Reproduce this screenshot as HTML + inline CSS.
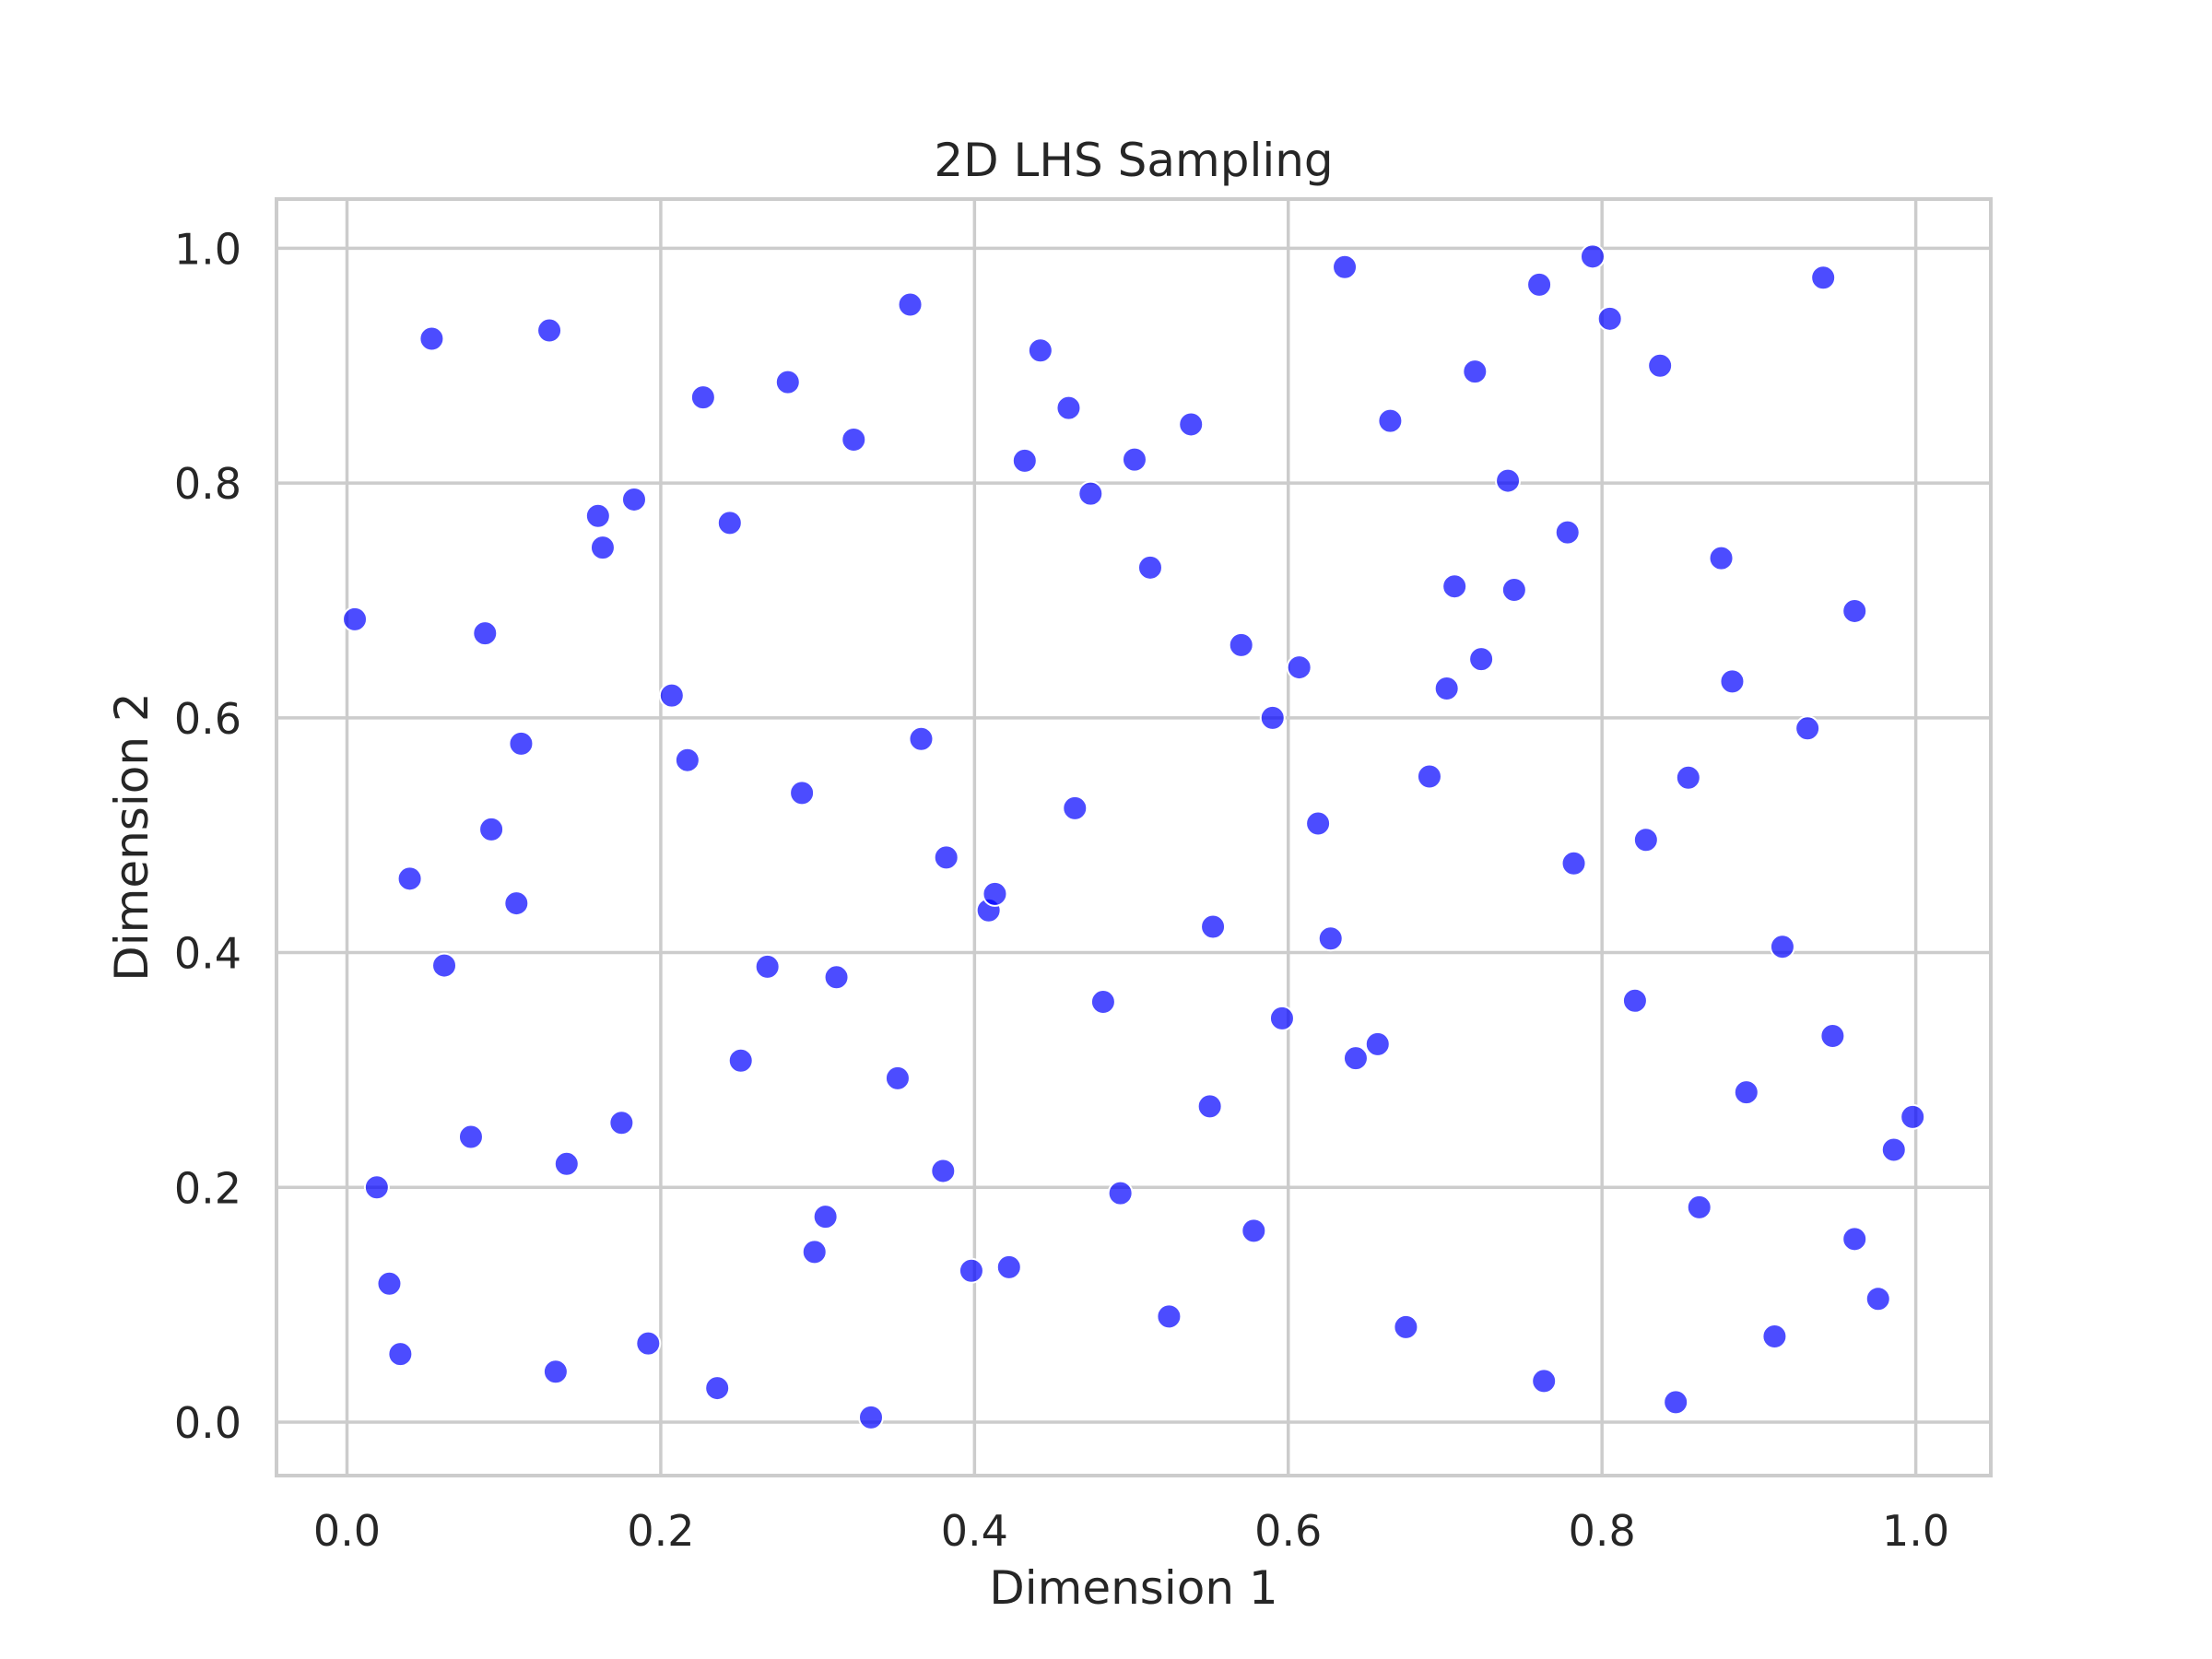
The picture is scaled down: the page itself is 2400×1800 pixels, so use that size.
<!DOCTYPE html>
<html><head><meta charset="utf-8"><style>
html,body{margin:0;padding:0;background:#fff}
svg{display:block}
text{font-family:"DejaVu Sans","Liberation Sans",sans-serif;fill:#262626}
</style></head><body>
<svg id="chart" width="2400" height="1800" viewBox="0 0 2400 1800">
<rect x="0" y="0" width="2400" height="1800" fill="#fff"/>
<g id="grid"></g>
<g id="pts"></g>
<rect x="300" y="216" width="1860" height="1385" fill="none" stroke="#cccccc" stroke-width="4"/>
<g id="ticks"></g>
<text x="1230" y="191" font-size="50" text-anchor="middle">2D LHS Sampling</text>
<text x="1230" y="1740" font-size="50" text-anchor="middle">Dimension 1</text>
<text x="160" y="908" font-size="50" text-anchor="middle" transform="rotate(-90 160 908)">Dimension 2</text>
</svg>
<script>
const xs=[0.005,0.054,0.129,0.019,0.027,0.034,0.040,0.062,0.079,0.088,0.092,0.108,0.111,0.133,0.140,0.160,0.163,0.175,0.183,0.192,0.207,0.217,0.227,0.236,0.244,0.251,0.268,0.281,0.290,0.298,0.305,0.312,0.323,0.334,0.351,0.359,0.366,0.380,0.382,0.398,0.409,0.413,0.422,0.432,0.442,0.460,0.464,0.474,0.482,0.493,0.502,0.512,0.524,0.538,0.550,0.552,0.570,0.578,0.590,0.596,0.607,0.619,0.627,0.636,0.643,0.657,0.665,0.675,0.690,0.701,0.706,0.719,0.723,0.740,0.744,0.760,0.763,0.778,0.782,0.794,0.805,0.821,0.828,0.837,0.847,0.855,0.862,0.876,0.883,0.892,0.910,0.915,0.931,0.941,0.947,0.961,0.961,0.976,0.986,0.998];
const ys=[0.684,0.923,0.930,0.200,0.118,0.058,0.463,0.389,0.243,0.672,0.505,0.442,0.578,0.043,0.220,0.772,0.745,0.255,0.786,0.067,0.619,0.564,0.873,0.029,0.766,0.308,0.388,0.886,0.536,0.145,0.175,0.379,0.837,0.004,0.293,0.952,0.582,0.214,0.481,0.129,0.436,0.450,0.132,0.819,0.913,0.864,0.523,0.791,0.358,0.195,0.820,0.728,0.090,0.850,0.269,0.422,0.662,0.163,0.600,0.344,0.643,0.510,0.412,0.984,0.310,0.322,0.853,0.081,0.550,0.625,0.712,0.895,0.650,0.802,0.709,0.969,0.035,0.758,0.476,0.993,0.940,0.359,0.496,0.900,0.017,0.549,0.183,0.736,0.631,0.281,0.073,0.405,0.591,0.975,0.329,0.691,0.156,0.105,0.232,0.260];
const xTicks=["0.0","0.2","0.4","0.6","0.8","1.0"];
const yTicks=["0.0","0.2","0.4","0.6","0.8","1.0"];
const NS="http://www.w3.org/2000/svg";
function sx(v){return 376.5+v*(2078.6-376.5);}
function sy(v){return 1543-v*(1543-269.4);}
const grid=document.getElementById('grid'),ticks=document.getElementById('ticks'),pts=document.getElementById('pts');
xTicks.forEach(t=>{const v=parseFloat(t);
 const l=document.createElementNS(NS,'line');
 
 
 l.setAttribute('x1',sx(v));l.setAttribute('x2',sx(v));l.setAttribute('y1',216);l.setAttribute('y2',1601);
 l.setAttribute('stroke','#cccccc');l.setAttribute('stroke-width','3.5');grid.appendChild(l);
 const tx=document.createElementNS(NS,'text');
 
 
 tx.setAttribute('x',sx(v));tx.setAttribute('y',1677);tx.setAttribute('font-size','46');tx.setAttribute('text-anchor','middle');
 tx.textContent=t;ticks.appendChild(tx);});
yTicks.forEach(t=>{const v=parseFloat(t);
 const l=document.createElementNS(NS,'line');
 
 
 l.setAttribute('y1',sy(v));l.setAttribute('y2',sy(v));l.setAttribute('x1',300);l.setAttribute('x2',2160);
 l.setAttribute('stroke','#cccccc');l.setAttribute('stroke-width','3.5');grid.appendChild(l);
 const tx=document.createElementNS(NS,'text');
 
 
 tx.setAttribute('x',262);tx.setAttribute('y',sy(v)+17);tx.setAttribute('font-size','46');tx.setAttribute('text-anchor','end');
 tx.textContent=t;ticks.appendChild(tx);});
xs.forEach((x,i)=>{
 const c=document.createElementNS(NS,'circle');
 
 
 c.setAttribute('cx',sx(x));c.setAttribute('cy',sy(ys[i]));c.setAttribute('r','13');
 c.setAttribute('fill','rgba(0,0,255,0.7)');c.setAttribute('stroke','#ffffff');c.setAttribute('stroke-width','2');
 pts.appendChild(c);});
</script>
</body></html>
